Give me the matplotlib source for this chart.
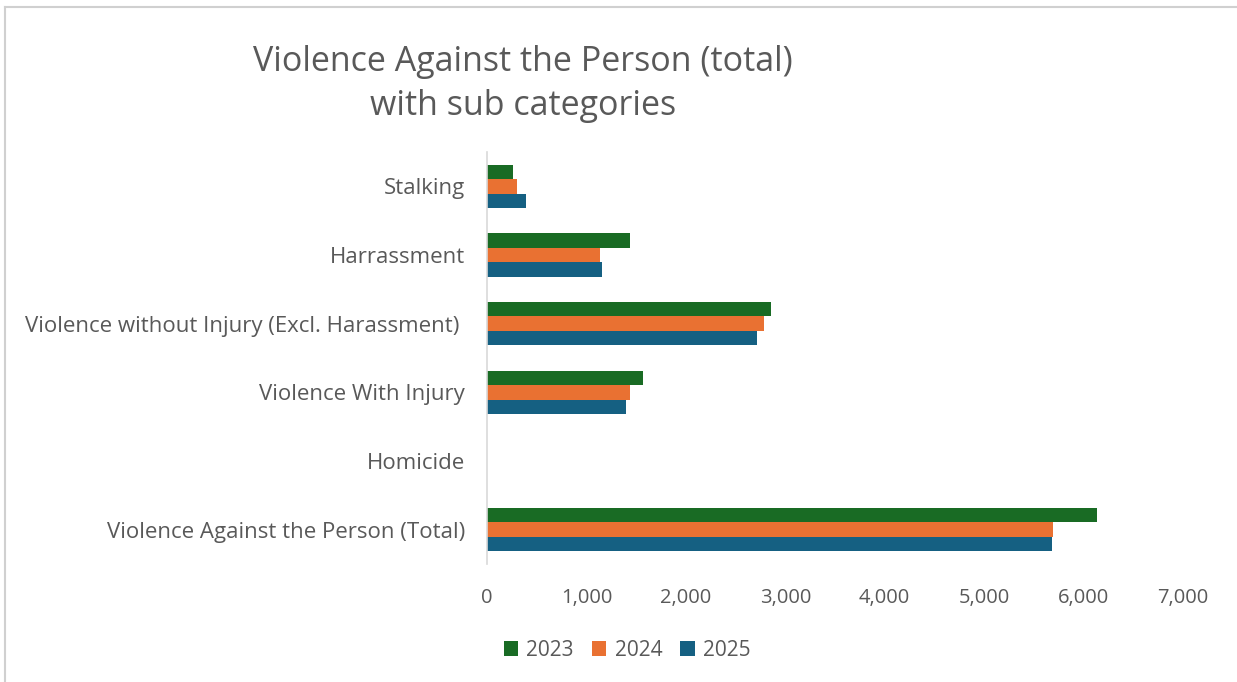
import matplotlib
matplotlib.use("Agg")
import matplotlib.pyplot as plt
from matplotlib.patches import Patch
from matplotlib.lines import Line2D
import numpy as np

categories = ["Stalking", "Harrassment", "Violence without Injury (Excl. Harassment) ",
              "Violence With Injury", "Homicide", "Violence Against the Person (Total)"]
years = ["2023", "2024", "2025"]
v2023 = [262, 1439, 2857, 1569, 3, 6137]
v2024 = [302, 1137, 2787, 1439, 3, 5694]
v2025 = [392, 1157, 2716, 1398, 3, 5684]
colors = ["#196B24", "#E97132", "#156082"]
xticks = [0, 1000, 2000, 3000, 4000, 5000, 6000, 7000]

plt.rcParams['font.family'] = ['Open Sans', 'DejaVu Sans']
txt = "#595959"

fig = plt.figure(figsize=(12.37, 6.82), dpi=100)
ax = fig.add_axes([487/1237, 1-564/682, (1183-487)/1237, (564-152)/682])

n = len(categories)
ypos = np.arange(n)
bh = 0.21
for i, (vals, c) in enumerate(zip([v2023, v2024, v2025], colors)):
    ax.barh(ypos + (i - 1) * bh, vals, height=bh, color=c, edgecolor='none', label=years[i])

ax.set_ylim(n - 0.5, -0.5)
ax.set_xlim(0, 7000)
ax.set_yticks(ypos)
ax.set_yticklabels(categories, fontsize=16, color=txt)
ax.set_xticks(xticks)
ax.set_xticklabels([f"{t:,}" for t in xticks], fontsize=14.5, color=txt)
ax.tick_params(axis='both', length=0)
ax.tick_params(axis='y', pad=16)
ax.tick_params(axis='x', pad=17)
for s in ['top', 'right', 'bottom']:
    ax.spines[s].set_visible(False)
ax.spines['left'].set_color('#D9D9D9')
ax.spines['left'].set_linewidth(1.2)

fig.text(523/1237, 1-62/682, "Violence Against the Person (total)", ha='center', va='center',
         fontsize=24.5, color=txt)
fig.text(523/1237, 1-106/682, "with sub categories", ha='center', va='center',
         fontsize=24.5, color=txt)

handles = [Patch(facecolor=c, edgecolor='none', label=y) for c, y in zip(colors, years)]
fig.legend(handles=handles, loc='center', bbox_to_anchor=(627/1237, 1-650/682), ncol=3,
           frameon=False, fontsize=15, labelcolor=txt, handlelength=0.7, handleheight=0.7,
           handletextpad=0.4, columnspacing=0.85)

fig.add_artist(Line2D([5/1237, 5/1237], [0, 1-7/682], color='#D0D0D0', lw=1.5, transform=fig.transFigure))
fig.add_artist(Line2D([5/1237, 1], [1-7/682, 1-7/682], color='#D0D0D0', lw=1.5, transform=fig.transFigure))

fig.savefig("out.png", dpi=100, facecolor='white')
